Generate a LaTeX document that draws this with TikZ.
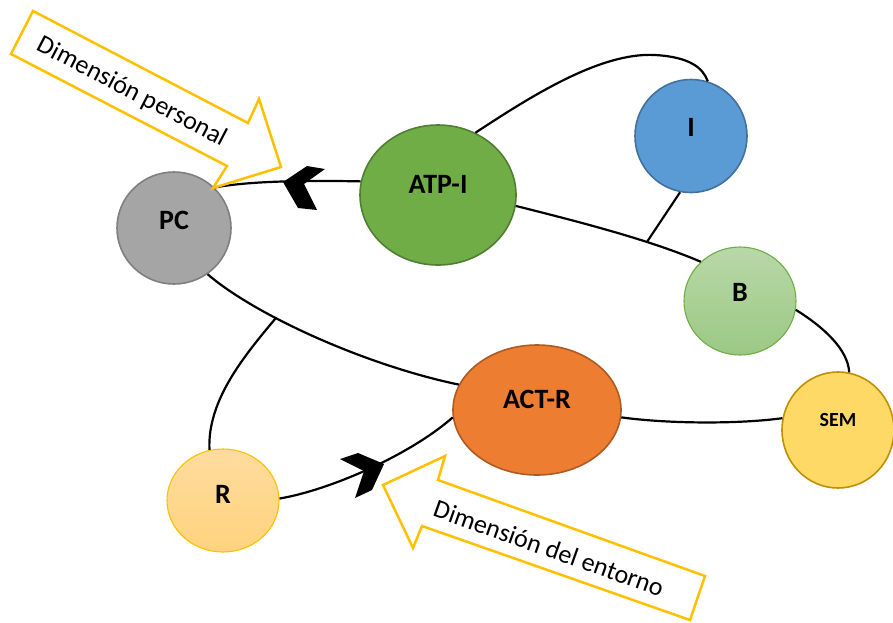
\documentclass[tikz,border=0pt]{standalone}
\usepackage{fontspec}
\setmainfont{Carlito}
\usetikzlibrary{shapes.geometric}
\definecolor{pcfill}{HTML}{A5A5A5}
\definecolor{pcline}{HTML}{7F7F7F}
\definecolor{atpfill}{HTML}{70AD47}
\definecolor{atpline}{HTML}{507E32}
\definecolor{ifill}{HTML}{5B9BD5}
\definecolor{iline}{HTML}{41719C}
\definecolor{btop}{HTML}{B8D8A8}
\definecolor{bbot}{HTML}{9CC884}
\definecolor{bline}{HTML}{70AD47}
\definecolor{semfill}{HTML}{FFD966}
\definecolor{semline}{HTML}{BF9000}
\definecolor{actfill}{HTML}{ED7D31}
\definecolor{actline}{HTML}{AE5A21}
\definecolor{rtop}{HTML}{FFDC9E}
\definecolor{rbot}{HTML}{FFD37E}
\definecolor{rline}{HTML}{FFC000}
\definecolor{arrline}{HTML}{FFC000}
\tikzset{
  blob/.style={ellipse, inner sep=0pt, line width=1.6pt, font=\fontsize{28}{30}\selectfont\bfseries, text height=18pt},
  link/.style={line width=2.2pt, black},
  chev/.style={fill=black, draw=none},
  bigarrow/.style={draw=arrline, fill=white, line width=2.5pt, line join=miter},
  arrtext/.style={font=\fontsize{26}{28}\selectfont, inner sep=0pt}
}
\begin{document}
\begin{tikzpicture}[x=1pt,y=-1pt]
\useasboundingbox (0,0) rectangle (893,622);

% nodes
\node[blob, draw=pcline, fill=pcfill, minimum width=114pt, minimum height=112pt, text depth=16pt] (pc) at (174,228) {PC};
\node[blob, draw=atpline, fill=atpfill, minimum width=156pt, minimum height=140pt, text depth=22pt] (atp) at (438,195) {ATP-I};
\node[blob, draw=iline, fill=ifill, minimum width=112pt, minimum height=113pt, text depth=18pt] (i) at (691,136) {I};
\node[blob, draw=bline, top color=btop, bottom color=bbot, line width=1.1pt, minimum width=112pt, minimum height=108pt, text depth=18pt] (b) at (740,301) {B};
\node[blob, draw=semline, fill=semfill, minimum width=112pt, minimum height=116pt, font=\fontsize{20}{22}\selectfont\bfseries, text height=13pt, text depth=20pt] (sem) at (838,430) {SEM};
\node[blob, draw=actline, fill=actfill, minimum width=168pt, minimum height=130pt, text depth=22pt] (act) at (537,410) {ACT-R};
\node[blob, draw=rline, top color=rtop, bottom color=rbot, line width=1.1pt, minimum width=112pt, minimum height=103pt, text depth=12pt] (r) at (223,500.5) {R};

% connectors
\draw[link] (pc.45) .. controls (245,182) and (290,180) .. (atp.170);
\draw[link] (atp.59) .. controls (530,97) and (600,52) .. (655,55) .. controls (690,57) and (703,68) .. (i.73);
\draw[link] (atp.-8) .. controls (580,222) and (650,240) .. coordinate[pos=0.68] (j2) (b.135);
\draw[link] (i.-101) -- (j2);
\draw[link] (b.-9) .. controls (825,328) and (848,350) .. (sem.79);
\draw[link] (act.-5) .. controls (670,424) and (740,424) .. (sem.168);
\draw[link] (pc.-54) .. controls (255,315) and (365,365) .. coordinate[pos=0.345] (j1) (act.162);
\draw[link] (r.105) .. controls (207,400) and (245,355) .. (j1);
\draw[link] (r.2) .. controls (330,490) and (410,455) .. (act.185);

% chevrons
\fill[chev] (283,182) -- (307,166) -- (325,169) -- (304,184) -- (317,210) -- (298,208) -- cycle;
\fill[chev] (340,459) -- (358,453) -- (384,464) -- (372,490) -- (355,498) -- (364,471) -- cycle;

% big yellow arrows
\draw[bigarrow] (33,11) -- (248,123) -- (259,99) -- (281,167) -- (213,188) -- (227,166) -- (11,54) -- cycle;
\node[arrtext, rotate=-27.5] (dp) at (132,92) {Dimensión personal};
\draw[bigarrow] (383,485) -- (445,456) -- (438,480) -- (705,576) -- (690,620) -- (422,526) -- (413,548) -- cycle;
\node[arrtext, rotate=-19.6] (de) at (549,548) {Dimensión del entorno};
\end{tikzpicture}
\end{document}
